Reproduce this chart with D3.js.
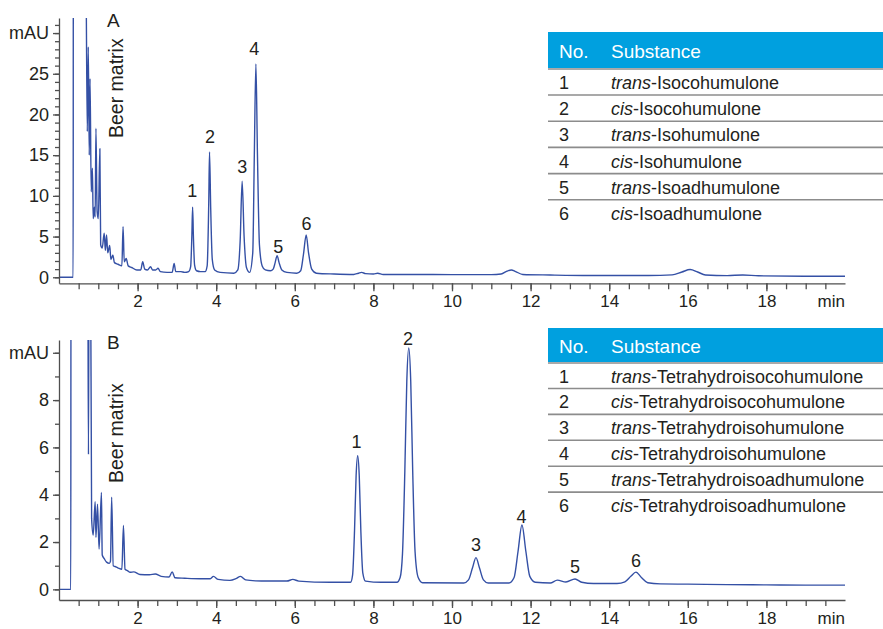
<!DOCTYPE html>
<html lang="en">
<head>
<meta charset="UTF-8">
<title>Iso-alpha acids and tetrahydro-iso-alpha acids in beer</title>
<script src="https://cdn.jsdelivr.net/npm/d3@7"></script>
<style>
    body {
        margin: 0;
        background: #fff;
    }
    svg text {
        font-family: "Liberation Sans", Arial, sans-serif;
    }
</style>
</head>
<body>
<svg id="chart" width="883" height="629"></svg>
<script>
// shared retention time axis
var timeTicks = [2, 4, 6, 8, 10, 12, 14, 16, 18];
var timeUnit = "min";
var signalUnit = "mAU";

// ---- run A : iso-alpha acids ----
// [min, mAU]
var traceA = [
    [0.00, 0.0], [0.36, 0.0], [0.365, 40], [0.68, 40], [0.72, 17.9], [0.745, 28.3], [0.77, 15.0],
    [0.79, 24.4], [0.82, 10.5], [0.85, 13.4], [0.87, 7.2], [0.90, 8.6], [0.92, 7.4], [0.94, 18.3],
    [0.97, 8.1], [1.00, 7.2], [1.04, 15.8], [1.06, 4.0], [1.10, 3.6], [1.15, 5.4], [1.18, 3.3],
    [1.21, 5.2], [1.24, 3.0], [1.29, 3.9], [1.32, 2.2], [1.37, 2.7], [1.41, 1.8], [1.50, 1.6],
    [1.60, 1.4], [1.63, 6.2], [1.66, 1.9], [1.71, 2.3], [1.76, 1.4], [1.85, 1.2], [1.98, 0.9],
    [2.08, 0.9], [2.13, 1.9], [2.18, 1.0], [2.25, 0.9], [2.33, 1.3], [2.38, 0.9], [2.46, 0.9],
    [2.52, 1.1], [2.58, 0.7], [2.75, 0.6], [2.88, 0.6], [2.93, 1.7], [2.97, 0.7], [3.10, 0.7],
    [3.20, 0.6], [3.30, 0.7], [3.35, 1.3], [3.38, 5.0], [3.40, 8.6], [3.42, 5.0], [3.45, 1.5],
    [3.50, 0.8], [3.60, 0.7], [3.72, 0.7], [3.77, 1.4], [3.81, 9.0], [3.83, 15.4], [3.86, 8.5],
    [3.90, 2.2], [3.96, 0.9], [4.10, 0.6], [4.45, 0.5], [4.55, 0.9], [4.61, 4.5], [4.66, 11.8],
    [4.71, 5.0], [4.77, 1.2], [4.85, 0.6], [4.93, 3.0], [4.97, 15.0], [5.01, 26.2], [5.05, 15.0],
    [5.10, 4.0], [5.17, 1.4], [5.25, 0.9], [5.38, 0.8], [5.45, 1.0], [5.50, 1.8], [5.55, 2.66],
    [5.60, 1.8], [5.67, 0.9], [5.80, 0.6], [6.05, 0.5], [6.15, 0.8], [6.22, 2.8], [6.29, 5.2],
    [6.35, 3.0], [6.43, 1.0], [6.55, 0.5], [7.00, 0.4], [7.50, 0.35], [7.62, 0.5], [7.70, 0.6],
    [7.80, 0.45], [8.00, 0.4], [8.11, 0.5], [8.25, 0.35], [9.00, 0.35], [10.00, 0.33], [11.00, 0.33],
    [11.25, 0.4], [11.40, 0.75], [11.51, 0.9], [11.62, 0.7], [11.80, 0.35], [12.50, 0.28],
    [13.50, 0.22], [15.00, 0.22], [15.60, 0.3], [15.85, 0.65], [16.06, 0.95], [16.25, 0.65],
    [16.45, 0.28], [17.00, 0.2], [17.40, 0.28], [17.80, 0.18], [19.00, 0.13], [20.00, 0.12]
];
var peakNoA = ["1", "2", "3", "4", "5", "6"];
var peakTimeA = [3.39, 3.84, 4.66, 4.97, 5.58, 6.30];
var peakLabelLevelA = [9.9, 16.5, 12.8, 27.3, 2.95, 5.8];
var prefixA = ["trans", "cis", "trans", "cis", "trans", "cis"];
var substanceA = ["Isocohumulone", "Isocohumulone", "Isohumulone", "Isohumulone", "Isoadhumulone", "Isoadhumulone"];
var yTicksA = [0, 5, 10, 15, 20, 25, 30];

// ---- run B : tetrahydro-iso-alpha acids ----
var traceB = [
    [0.00, 0.0], [0.30, 0.0], [0.305, 15], [0.73, 15], [0.75, 5.7], [0.765, 15], [0.80, 15],
    [0.83, 3.0], [0.87, 2.3], [0.92, 3.7], [0.94, 2.2], [0.98, 3.6], [1.02, 1.7], [1.08, 4.1],
    [1.10, 1.45], [1.15, 1.3], [1.21, 1.15], [1.28, 1.1], [1.31, 1.2], [1.34, 3.9], [1.38, 1.0],
    [1.45, 0.95], [1.51, 0.9], [1.60, 0.85], [1.64, 2.7], [1.68, 0.85], [1.75, 0.78], [1.81, 0.72],
    [1.90, 0.74], [2.06, 0.63], [2.30, 0.62], [2.45, 0.65], [2.60, 0.55], [2.80, 0.52], [2.88, 0.74],
    [2.95, 0.49], [3.20, 0.47], [3.59, 0.45], [3.85, 0.45], [3.93, 0.55], [4.05, 0.42], [4.35, 0.38],
    [4.50, 0.45], [4.62, 0.55], [4.75, 0.40], [5.00, 0.36], [5.30, 0.35], [5.80, 0.35], [5.95, 0.42],
    [6.10, 0.35], [6.90, 0.30], [7.42, 0.30], [7.47, 0.6], [7.52, 2.5], [7.56, 4.8], [7.60, 5.65],
    [7.64, 4.8], [7.68, 2.5], [7.73, 0.7], [7.80, 0.35], [8.20, 0.30], [8.60, 0.30], [8.68, 0.5],
    [8.74, 1.5], [8.80, 5.0], [8.85, 8.8], [8.90, 10.2], [8.95, 8.8], [9.00, 5.0], [9.06, 1.6],
    [9.14, 0.5], [9.25, 0.28], [10.30, 0.27], [10.42, 0.40], [10.52, 0.90], [10.61, 1.34],
    [10.70, 0.90], [10.80, 0.40], [10.92, 0.27], [11.45, 0.27], [11.58, 0.50], [11.68, 1.60],
    [11.78, 2.72], [11.88, 1.60], [11.98, 0.55], [12.12, 0.30], [12.50, 0.27], [12.68, 0.39],
    [12.90, 0.31], [13.13, 0.44], [13.30, 0.30], [13.60, 0.25], [14.20, 0.25], [14.40, 0.32],
    [14.55, 0.55], [14.68, 0.73], [14.82, 0.50], [14.98, 0.28], [15.30, 0.23], [16.00, 0.22],
    [17.00, 0.20], [18.00, 0.19], [19.00, 0.18], [20.00, 0.18]
];
var peakNoB = ["1", "2", "3", "4", "5", "6"];
var peakTimeB = [7.57, 8.88, 10.61, 11.77, 13.13, 14.68];
var peakLabelLevelB = [5.96, 10.33, 1.62, 2.79, 0.68, 0.96];
var prefixB = ["trans", "cis", "trans", "cis", "trans", "cis"];
var substanceB = ["Tetrahydroisocohumulone", "Tetrahydroisocohumulone", "Tetrahydroisohumulone",
                  "Tetrahydroisohumulone", "Tetrahydroisoadhumulone", "Tetrahydroisoadhumulone"];
var yTicksB = [0, 2, 4, 6, 8, 10];

var tableHead = ["No.", "Substance"];

var svg = d3.select("#chart");
var ink = "#231f20";
var axisColor = "#4f4f4f";
var traceColor = "#3450a5";

function drawPanel(p) {
    var g = svg.append("g");
    var x = d3.scaleLinear().domain([0, 20]).range([59, 845]);
    var y = d3.scaleLinear().domain(p.yDomain).range([p.bottom, p.top]);

    // keep the off-scale solvent front inside the plot
    svg.append("clipPath").attr("id", "clip" + p.name)
        .append("rect")
        .attr("x", 59).attr("y", p.top)
        .attr("width", 786).attr("height", p.bottom - p.top);

    g.append("path")
        .datum(p.trace)
        .attr("clip-path", "url(#clip" + p.name + ")")
        .attr("fill", "none")
        .attr("stroke", traceColor)
        .attr("stroke-width", 1.4)
        .attr("stroke-linejoin", "round")
        .attr("d", d3.line()
            .x(function(d) { return x(d[0]); })
            .y(function(d) { return y(d[1]); })
            .curve(d3.curveMonotoneX));

    // x axis: minor ticks every 0.5 min, labelled every 2 min
    g.append("g")
        .attr("transform", "translate(0," + p.bottom + ")")
        .call(d3.axisBottom(x).tickValues(d3.range(0.5, 20, 0.5)).tickSize(6).tickSizeOuter(0).tickFormat(""));
    var xa = g.append("g")
        .attr("transform", "translate(0," + p.bottom + ")")
        .call(d3.axisBottom(x).tickValues(timeTicks).tickSize(8).tickSizeOuter(0).tickPadding(4));
    xa.select(".domain").remove();
    xa.append("text")
        .attr("x", 845).attr("y", 12).attr("dy", "0.71em")
        .attr("text-anchor", "end")
        .text(timeUnit);

    // y axis
    g.append("g")
        .attr("transform", "translate(59,0)")
        .call(d3.axisLeft(y).tickValues(d3.range(0, p.minorMax + 1, 1)).tickSize(4).tickSizeOuter(0).tickFormat(""));
    var ya = g.append("g")
        .attr("transform", "translate(59,0)")
        .call(d3.axisLeft(y).tickValues(p.yTicks).tickSize(6).tickSizeOuter(0).tickPadding(4)
            .tickFormat(function(d) { return d === p.yTicks[p.yTicks.length - 1] ? signalUnit : d; }));
    ya.select(".domain").remove();

    g.selectAll(".domain, .tick line").attr("stroke", axisColor).attr("stroke-width", 1.3);
    g.selectAll("text").attr("fill", ink).attr("font-size", 18);
    xa.selectAll("text").attr("font-size", 17);

    // peak numbers
    g.selectAll(".peak")
        .data(p.peakNo)
        .enter().append("text")
        .attr("class", "peak")
        .attr("x", function(d, i) { return x(p.peakTime[i]); })
        .attr("y", function(d, i) { return y(p.peakLevel[i]); })
        .attr("text-anchor", "middle")
        .attr("font-size", 18)
        .attr("fill", ink)
        .text(function(d) { return d; });

    // run letter and matrix note
    g.append("text")
        .attr("x", 107).attr("y", p.top + 9)
        .attr("font-size", 19).attr("fill", ink)
        .text(p.name);
    g.append("text")
        .attr("transform", "translate(123," + p.matrixY + ") rotate(-90)")
        .attr("font-size", 19.5).attr("fill", ink)
        .text("Beer matrix");
}

function drawTable(t) {
    var g = svg.append("g");
    var x0 = 548, w = 335;

    g.append("rect")
        .attr("x", x0).attr("y", t.top)
        .attr("width", w).attr("height", t.headH)
        .attr("fill", "#00a0df");
    g.append("text").attr("x", 559).attr("y", t.top + t.headBase)
        .attr("font-size", 19).attr("fill", "#fff").text(tableHead[0]);
    g.append("text").attr("x", 611).attr("y", t.top + t.headBase)
        .attr("font-size", 19).attr("fill", "#fff").text(tableHead[1]);

    var first = t.top + t.headH + t.firstBase;
    g.append("line")
        .attr("x1", x0).attr("x2", x0 + w)
        .attr("y1", t.top + t.headH + 1).attr("y2", t.top + t.headH + 1)
        .attr("stroke", "#8c8c8c").attr("stroke-width", 1.6);

    t.no.forEach(function(n, i) {
        var by = first + i * t.rowH;
        g.append("text").attr("x", 559).attr("y", by)
            .attr("font-size", 18).attr("fill", ink).text(n);
        var s = g.append("text").attr("x", 611).attr("y", by)
            .attr("font-size", 18).attr("fill", ink);
        s.append("tspan").attr("font-style", "italic").text(t.prefix[i]);
        s.append("tspan").text("-" + t.names[i]);
        if (i < t.no.length - 1) {
            g.append("line")
                .attr("x1", x0).attr("x2", x0 + w)
                .attr("y1", by + 6).attr("y2", by + 6)
                .attr("stroke", "#8c8c8c").attr("stroke-width", 1.6);
        }
    });
}

drawPanel({
    name: "A", trace: traceA, yDomain: [-0.74, 31.85], top: 18, bottom: 283.3,
    yTicks: yTicksA, minorMax: 31, matrixY: 138,
    peakNo: peakNoA, peakTime: peakTimeA, peakLevel: peakLabelLevelA
});
drawPanel({
    name: "B", trace: traceB, yDomain: [-0.45, 10.54], top: 340, bottom: 600,
    yTicks: yTicksB, minorMax: 10, matrixY: 483,
    peakNo: peakNoB, peakTime: peakTimeB, peakLevel: peakLabelLevelB
});

drawTable({ top: 32, headH: 36, headBase: 25.7, firstBase: 21, rowH: 26.2,
            no: peakNoA, prefix: prefixA, names: substanceA });
drawTable({ top: 328, headH: 34, headBase: 25.3, firstBase: 20.5, rowH: 25.9,
            no: peakNoB, prefix: prefixB, names: substanceB });
</script>
</body>
</html>
